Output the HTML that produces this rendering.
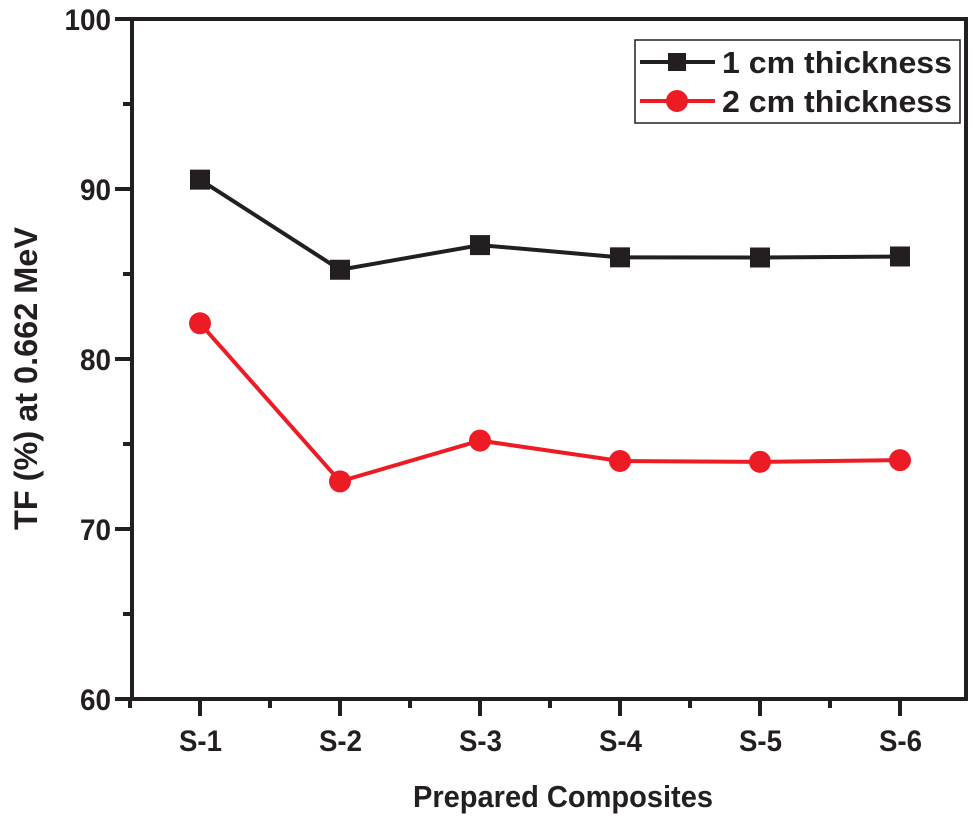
<!DOCTYPE html>
<html><head><meta charset="utf-8"><style>
body{margin:0;background:#fff}
svg{display:block;font-family:"Liberation Sans",Arial,sans-serif;font-weight:bold}
</style></head><body>
<svg id="c" width="973" height="821" viewBox="0 0 973 821"></svg>
<script>
const categories=["S-1","S-2","S-3","S-4","S-5","S-6"];
const series1=[90.55,85.25,86.7,85.98,85.97,86.03];
const series2=[82.1,72.8,75.2,74.0,73.95,74.05];
const yTicks=[60,70,80,90,100];
const L=132,R=966,T=19,B=699;
const X=i=>200+i*140;
const Y=v=>B-(v-60)*(B-T)/40;
const s=document.getElementById('c');
const NS='http://www.w3.org/2000/svg';
function mk(t,a,p){const e=document.createElementNS(NS,t);for(const k in a)e.setAttribute(k,a[k]);(p||s).appendChild(e);return e;}
const frame=mk('rect',{x:L,y:T,width:R-L,height:B-T,fill:'none',stroke:'#231f20','stroke-width':4});


for(let v=60;v<=100;v+=5){
  const major=v%10===0;
  const t=mk('line',{x1:L,x2:L-(major?17:9),y1:Y(v),y2:Y(v),stroke:'#231f20','stroke-width':4});
  
  
}
yTicks.forEach(v=>{
  const t=mk('text',{x:L-21,y:Y(v)+11,'text-anchor':'end','font-size':30,fill:'#231f20',textLength:String(v).length*15.5,lengthAdjust:'spacingAndGlyphs'});
  t.textContent=v;
  
  
});
for(let k=-1;k<=11;k++){
  const x=200+k*70;
  if(x<=L||x>=R) continue;
  const major=k%2===0;
  const t=mk('line',{x1:x,x2:x,y1:B,y2:B+(major?17:9),stroke:'#231f20','stroke-width':4});
  
  
}
mk('line',{x1:L-2,x2:L-2,y1:B,y2:B+9,stroke:'#231f20','stroke-width':4});
categories.forEach((c,i)=>{
  const t=mk('text',{x:X(i)-21,y:751,'font-size':30,fill:'#231f20',textLength:43,lengthAdjust:'spacingAndGlyphs'});
  t.textContent=c;
  
  
});
const xt=mk('text',{x:413,y:807,'font-size':31,fill:'#231f20',textLength:300,lengthAdjust:'spacingAndGlyphs'});
xt.textContent='Prepared Composites';


const yt=mk('text',{x:0,y:0,'font-size':32,fill:'#231f20',transform:'translate(37,530) rotate(-90)',textLength:303,lengthAdjust:'spacingAndGlyphs'});
yt.textContent='TF (%) at 0.662 MeV';


const l1=mk('polyline',{points:series1.map((v,i)=>X(i)+','+Y(v)).join(' '),fill:'none',stroke:'#231f20','stroke-width':4});


series1.forEach((v,i)=>{
  const m=mk('rect',{x:X(i)-10,y:Y(v)-10,width:20,height:20,fill:'#231f20'});
  
  
});
const l2=mk('polyline',{points:series2.map((v,i)=>X(i)+','+Y(v)).join(' '),fill:'none',stroke:'#ed1c24','stroke-width':4});


series2.forEach((v,i)=>{
  const m=mk('circle',{cx:X(i),cy:Y(v),r:11,fill:'#ed1c24'});
  
  
});
const lg=mk('g',{});


mk('rect',{x:635,y:40,width:325,height:83,fill:'#fff',stroke:'#231f20','stroke-width':1.5},lg);
mk('line',{x1:640,x2:715,y1:62,y2:62,stroke:'#231f20','stroke-width':4},lg);
mk('rect',{x:668,y:53,width:18,height:18,fill:'#231f20'},lg);
const e1=mk('text',{x:722,y:73,'font-size':31,fill:'#231f20',textLength:230,lengthAdjust:'spacingAndGlyphs'},lg);
e1.textContent='1 cm thickness';


mk('line',{x1:640,x2:715,y1:101,y2:101,stroke:'#ed1c24','stroke-width':4},lg);
mk('circle',{cx:677,cy:101,r:11,fill:'#ed1c24'},lg);
const e2=mk('text',{x:722,y:112,'font-size':31,fill:'#231f20',textLength:230,lengthAdjust:'spacingAndGlyphs'},lg);
e2.textContent='2 cm thickness';


</script>
</body></html>
